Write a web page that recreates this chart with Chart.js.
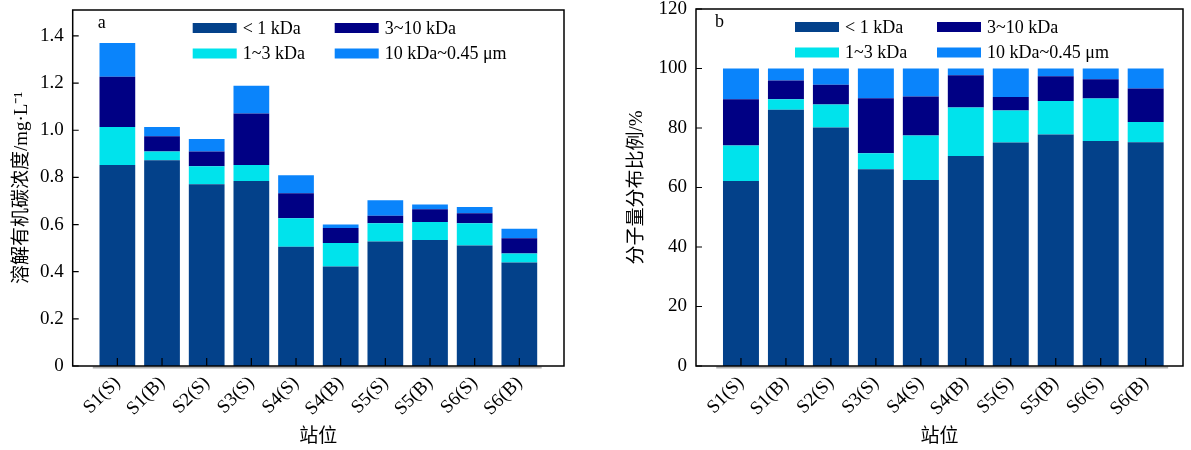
<!DOCTYPE html>
<html>
<head>
<meta charset="utf-8">
<script src="https://cdn.jsdelivr.net/npm/chart.js@4"></script>
<style>
  body { margin: 0; background: #fff; }
  .panel { position: absolute; top: 0; height: 450px; }
</style>
</head>
<body>
<div class="panel" style="left:0;width:600px"><canvas id="chartA" width="600" height="450"></canvas></div>
<div class="panel" style="left:600px;width:591px"><canvas id="chartB" width="591" height="450"></canvas></div>
<script>
// stations
const categories = ['S1(S)', 'S1(B)', 'S2(S)', 'S3(S)', 'S4(S)', 'S4(B)', 'S5(S)', 'S5(B)', 'S6(S)', 'S6(B)'];
const seriesNames = ['< 1 kDa', '1~3 kDa', '3~10 kDa', '10 kDa~0.45 μm'];
const colors = ['#03418a', '#00e3ec', '#000084', '#0a84fb'];

// a: DOC concentration, mg/L
const lt1Conc = [0.853, 0.873, 0.771, 0.785, 0.506, 0.422, 0.528, 0.534, 0.511, 0.439];
const k1to3Conc = [0.161, 0.037, 0.076, 0.068, 0.121, 0.100, 0.077, 0.077, 0.095, 0.038];
const k3to10Conc = [0.213, 0.065, 0.063, 0.218, 0.106, 0.063, 0.032, 0.054, 0.042, 0.065];
const k10Conc = [0.143, 0.039, 0.053, 0.118, 0.076, 0.015, 0.066, 0.020, 0.026, 0.040];

// b: share of each fraction, %
const lt1Pct = [62.2, 86.1, 80.2, 66.1, 62.5, 70.6, 75.1, 77.8, 75.6, 75.2];
const k1to3Pct = [11.9, 3.6, 7.7, 5.4, 15.0, 16.3, 10.8, 11.3, 14.3, 6.8];
const k3to10Pct = [15.6, 6.3, 6.6, 18.5, 13.1, 10.8, 4.5, 8.3, 6.5, 11.3];
const k10Pct = [10.3, 4.0, 5.5, 10.0, 9.4, 2.3, 9.6, 2.6, 3.6, 6.7];

const yTicksA = [0, 0.2, 0.4, 0.6, 0.8, 1.0, 1.2, 1.4];
const yTicksB = [0, 20, 40, 60, 80, 100, 120];

const SERIF = '"Liberation Serif", "Times New Roman", "Noto Sans CJK SC", serif';

// frame, inward ticks, legend and panel letter
const framePlugin = {
  id: 'frame',
  afterDraw(chart, args, o) {
    const ctx = chart.ctx;
    const a = chart.chartArea;
    const x = chart.scales.x, y = chart.scales.y;
    ctx.save();
    // grey shadow under the bars
    ctx.strokeStyle = '#b0b0b0';
    ctx.lineWidth = 2;
    ctx.beginPath();
    ctx.moveTo(x.getPixelForValue(-0.55), a.bottom + 1.5);
    ctx.lineTo(x.getPixelForValue(9.5), a.bottom + 1.5);
    ctx.stroke();
    // box
    ctx.strokeStyle = '#000';
    ctx.lineWidth = 1.5;
    ctx.strokeRect(a.left, a.top, a.right - a.left, a.bottom - a.top);
    ctx.lineWidth = 1.2;
    ctx.beginPath();
    y.ticks.forEach(t => {
      const py = y.getPixelForValue(t.value);
      ctx.moveTo(a.left, py); ctx.lineTo(a.left + 6, py);
    });
    categories.forEach((c, i) => {
      const px = x.getPixelForValue(i);
      ctx.moveTo(px, a.bottom); ctx.lineTo(px, a.bottom - 8);
    });
    ctx.stroke();
    // legend
    const order = [[0, 0, 0], [2, 1, 0], [1, 0, 1], [3, 1, 1]];
    ctx.font = '18px ' + SERIF;
    ctx.textBaseline = 'middle';
    ctx.textAlign = 'left';
    order.forEach(([di, col, row]) => {
      const lx = a.left + o.legendX[col];
      const ly = a.top + 18 + row * 25.5;
      ctx.fillStyle = colors[di];
      ctx.fillRect(lx, ly - 5, 44, 10);
      ctx.fillStyle = '#000';
      ctx.fillText(seriesNames[di], lx + 50, ly + 1);
    });
    ctx.font = '18px ' + SERIF;
    ctx.fillText(o.letter, a.left + o.letterX, a.top + 13);
    ctx.restore();
  }
};

function makeChart(id, series, yMax, yTicks, xMax, yTitle, yWidth, padTop, padRight, titlePad, legendX, letterX, fmt) {
  return new Chart(document.getElementById(id), {
    type: 'bar',
    data: {
      datasets: series.map((vals, k) => ({
        label: seriesNames[k],
        data: vals.map((v, i) => ({ x: i, y: v })),
        backgroundColor: colors[k],
        borderWidth: 0,
        barPercentage: 0.8,
        categoryPercentage: 1.0
      }))
    },
    options: {
      responsive: false,
      animation: false,
      layout: { padding: { top: padTop, right: padRight, left: 0, bottom: 0 } },
      plugins: {
        legend: { display: false },
        tooltip: { enabled: false },
        frame: { legendX: legendX, letter: id === 'chartA' ? 'a' : 'b', letterX: letterX }
      },
      scales: {
        x: {
          type: 'linear',
          stacked: true,
          offset: false,
          min: -1,
          max: xMax,
          grid: { display: false, drawTicks: false },
          border: { display: false },
          afterBuildTicks: s => {
            s.ticks = categories.map((c, i) => ({ value: i }));
          },
          afterFit: s => { s.height = 84; s.paddingLeft = 0; s.paddingRight = 0; },
          ticks: {
            autoSkip: false,
            minRotation: 45,
            maxRotation: 45,
            padding: 6,
            color: '#000',
            font: { family: SERIF, size: 19 },
            callback: v => categories[v]
          },
          title: {
            display: true,
            text: '站位',
            color: '#000',
            font: { family: SERIF, size: 19 },
            padding: { top: 0, bottom: 2 }
          }
        },
        y: {
          stacked: true,
          min: 0,
          max: yMax,
          grid: { display: false, drawTicks: false },
          border: { display: false },
          afterBuildTicks: s => {
            s.ticks = yTicks.map(v => ({ value: v }));
          },
          afterFit: s => { s.width = yWidth; s.paddingTop = 0; s.paddingBottom = 0; },
          ticks: {
            padding: 9,
            color: '#000',
            font: { family: SERIF, size: 19 },
            callback: fmt
          },
          title: {
            display: true,
            text: yTitle,
            color: '#000',
            font: { family: SERIF, size: 19 },
            padding: { top: titlePad, bottom: 0 }
          }
        }
      }
    },
    plugins: [framePlugin]
  });
}

makeChart('chartA', [lt1Conc, k1to3Conc, k3to10Conc, k10Conc], 1.51, yTicksA, 10,
  '溶解有机碳浓度/mg·L⁻¹', 72.7, 10, 36, 11, [120, 262], 25,
  v => v === 0 ? '0' : v.toFixed(1));

makeChart('chartB', [lt1Pct, k1to3Pct, k3to10Pct, k10Pct], 120, yTicksB, 9.83,
  '分子量分布比例/%', 96, 9, 8, 26, [99, 241], 19,
  v => String(v));
</script>
</body>
</html>
